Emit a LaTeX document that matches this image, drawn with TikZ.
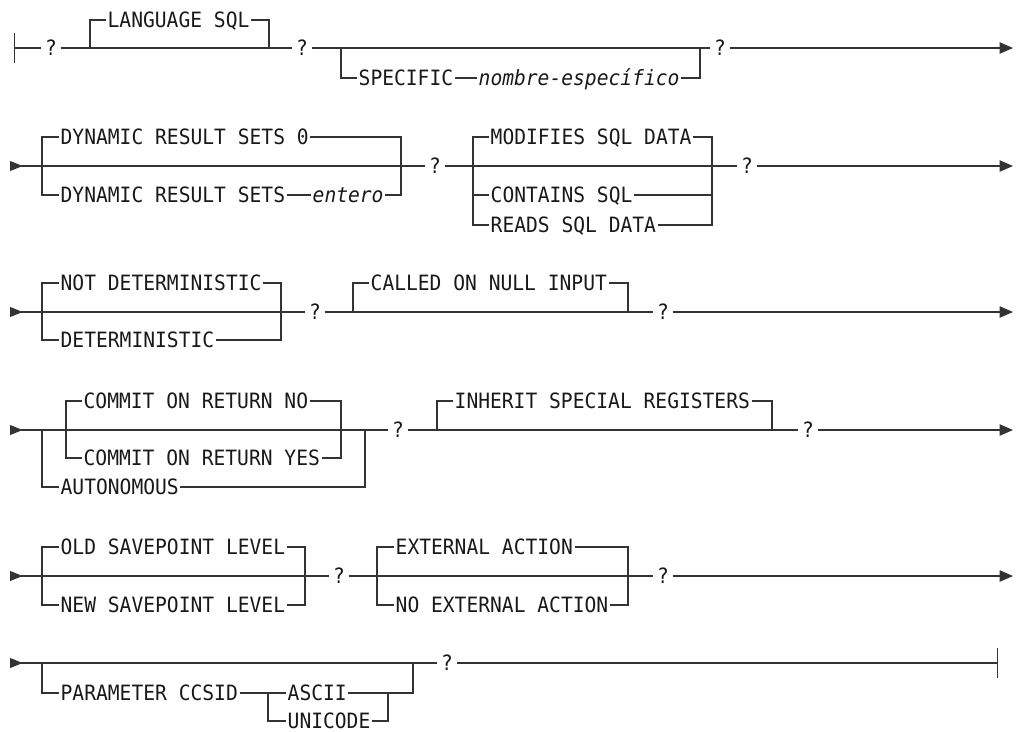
\documentclass[tikz,border=0pt]{standalone}
\usepackage{fontspec}
\newfontfamily\railfont[FakeStretch=0.93]{DejaVu Sans Mono}
\usetikzlibrary{positioning,arrows.meta}

\begin{document}
\begin{tikzpicture}[
  x=0.025cm, y=-0.025cm,
  rail/.style={line width=0.9pt, draw=black!80},
  kw/.style={font=\railfont\fontsize{15}{17}\selectfont, text=black!90, text height=10.8pt, text depth=0pt, inner xsep=1pt, inner ysep=0pt, anchor=west},
  var/.style={kw, font=\railfont\itshape\fontsize{15}{17}\selectfont},
  qm/.style={kw, anchor=center, inner xsep=2.5pt},
  start/.style={rail, {Triangle[reversed,length=9pt,width=7pt]}-},
  go/.style={rail, -{Triangle[length=9.5pt,width=8pt]}},
  stopbar/.style={rail, -{Bar[width=21pt]}}
]
\useasboundingbox (0,0) rectangle (1017,731);

% row 1
\coordinate (r1s) at (14,48);
\coordinate (r1e) at (1013,48);
\node[qm] (q1a) at (51,48) {?};
\node[qm] (q1b) at (302,48) {?};
\node[qm] (q1c) at (720,48) {?};
\coordinate (b1l) at (90,48);
\coordinate (b1r) at (269,48);
\coordinate (b1c) at (341,48);
\coordinate (b1d) at (700,48);
\node[kw] (lang) at (106,20) {LANGUAGE SQL};
\node[kw] (spec) at (357,78) {SPECIFIC};
\node[var] (nomb) at (477,78) {nombre-específico};
\draw[rail, {Bar[width=21pt]}-] (r1s) -- (q1a);
\draw[rail] (q1a) -- (q1b);
\draw[rail] (q1b) -- (q1c);
\draw[go] (q1c) -- (r1e);
\draw[rail] (b1l) |- (lang.west);
\draw[rail] (lang.east) -| (b1r);
\draw[rail] (b1c) |- (spec.west);
\draw[rail] (spec) -- (nomb);
\draw[rail] (nomb.east) -| (b1d);

% row 2
\coordinate (r2s) at (10,166);
\coordinate (r2e) at (1013,166);
\node[qm] (q2a) at (435,166) {?};
\node[qm] (q2b) at (747,166) {?};
\coordinate (b2l) at (42,166);
\coordinate (b2r) at (401,166);
\coordinate (b2c) at (473,166);
\coordinate (b2d) at (712,166);
\node[kw] (dyn0) at (59,137) {DYNAMIC RESULT SETS 0};
\node[kw] (dynn) at (59,195) {DYNAMIC RESULT SETS};
\node[var] (ent) at (311,195) {entero};
\node[kw] (modi) at (489,137) {MODIFIES SQL DATA};
\node[kw] (cont) at (489,195) {CONTAINS SQL};
\node[kw] (read) at (489,225) {READS SQL DATA};
\draw[start] (r2s) -- (q2a);
\draw[rail] (q2a) -- (q2b);
\draw[go] (q2b) -- (r2e);
\draw[rail] (dyn0.west) -| (b2l) |- (dynn.west);
\draw[rail] (dynn) -- (ent);
\draw[rail] (dyn0.east) -| (b2r) |- (ent.east);
\draw[rail] (modi.west) -| (b2c) |- (read.west);
\draw[rail] (b2c |- cont.west) -- (cont.west);
\draw[rail] (modi.east) -| (b2d) |- (read.east);
\draw[rail] (cont.east) -- (b2d |- cont.east);

% row 3
\coordinate (r3s) at (10,312);
\coordinate (r3e) at (1013,312);
\node[qm] (q3a) at (315,312) {?};
\node[qm] (q3b) at (663,312) {?};
\coordinate (b3l) at (42,312);
\coordinate (b3r) at (281,312);
\coordinate (b3c) at (353,312);
\coordinate (b3d) at (628,312);
\node[kw] (notd) at (59,283) {NOT DETERMINISTIC};
\node[kw] (det) at (59,340) {DETERMINISTIC};
\node[kw] (call) at (369,283) {CALLED ON NULL INPUT};
\draw[start] (r3s) -- (q3a);
\draw[rail] (q3a) -- (q3b);
\draw[go] (q3b) -- (r3e);
\draw[rail] (notd.west) -| (b3l) |- (det.west);
\draw[rail] (notd.east) -| (b3r) |- (det.east);
\draw[rail] (b3c) |- (call.west);
\draw[rail] (call.east) -| (b3d);

% row 4
\coordinate (r4s) at (10,430);
\coordinate (r4e) at (1013,430);
\node[qm] (q4a) at (398,430) {?};
\node[qm] (q4b) at (808,430) {?};
\coordinate (b4l) at (42,430);
\coordinate (b4r) at (365,430);
\coordinate (b4i) at (66,430);
\coordinate (b4j) at (341,430);
\coordinate (b4c) at (437,430);
\coordinate (b4d) at (772,430);
\node[kw] (cno) at (82,401) {COMMIT ON RETURN NO};
\node[kw] (cyes) at (82,458) {COMMIT ON RETURN YES};
\node[kw] (auto) at (59,487) {AUTONOMOUS};
\node[kw] (inh) at (453,401) {INHERIT SPECIAL REGISTERS};
\draw[start] (r4s) -- (q4a);
\draw[rail] (q4a) -- (q4b);
\draw[go] (q4b) -- (r4e);
\draw[rail] (cno.west) -| (b4i) |- (cyes.west);
\draw[rail] (cno.east) -| (b4j) |- (cyes.east);
\draw[rail] (b4l) |- (auto.west);
\draw[rail] (auto.east) -| (b4r);
\draw[rail] (b4c) |- (inh.west);
\draw[rail] (inh.east) -| (b4d);

% row 5
\coordinate (r5s) at (10,576);
\coordinate (r5e) at (1013,576);
\node[qm] (q5a) at (339,576) {?};
\node[qm] (q5b) at (663,576) {?};
\coordinate (b5l) at (42,576);
\coordinate (b5r) at (305,576);
\coordinate (b5c) at (377,576);
\coordinate (b5d) at (628,576);
\node[kw] (olds) at (59,547) {OLD SAVEPOINT LEVEL};
\node[kw] (news) at (59,605) {NEW SAVEPOINT LEVEL};
\node[kw] (ext) at (394,547) {EXTERNAL ACTION};
\node[kw] (noext) at (394,605) {NO EXTERNAL ACTION};
\draw[start] (r5s) -- (q5a);
\draw[rail] (q5a) -- (q5b);
\draw[go] (q5b) -- (r5e);
\draw[rail] (olds.west) -| (b5l) |- (news.west);
\draw[rail] (olds.east) -| (b5r) |- (news.east);
\draw[rail] (ext.west) -| (b5c) |- (noext.west);
\draw[rail] (ext.east) -| (b5d) |- (noext.east);

% row 6
\coordinate (r6s) at (10,663);
\coordinate (r6e) at (998,663);
\node[qm] (q6) at (447,663) {?};
\coordinate (b6l) at (42,663);
\coordinate (b6r) at (413,663);
\coordinate (b6i) at (268,693);
\coordinate (b6j) at (388,693);
\node[kw] (parm) at (59,693) {PARAMETER CCSID};
\node[kw] (asc) at (286,693) {ASCII};
\node[kw] (uni) at (286,721) {UNICODE};
\draw[start] (r6s) -- (q6);
\draw[stopbar] (q6) -- (r6e);
\draw[rail] (b6l) |- (parm.west);
\draw[rail] (parm) -- (asc);
\draw[rail] (b6i) |- (uni.west);
\draw[rail] (uni.east) -| (b6j);
\draw[rail] (asc.east) -| (b6r);
\end{tikzpicture}
\end{document}
